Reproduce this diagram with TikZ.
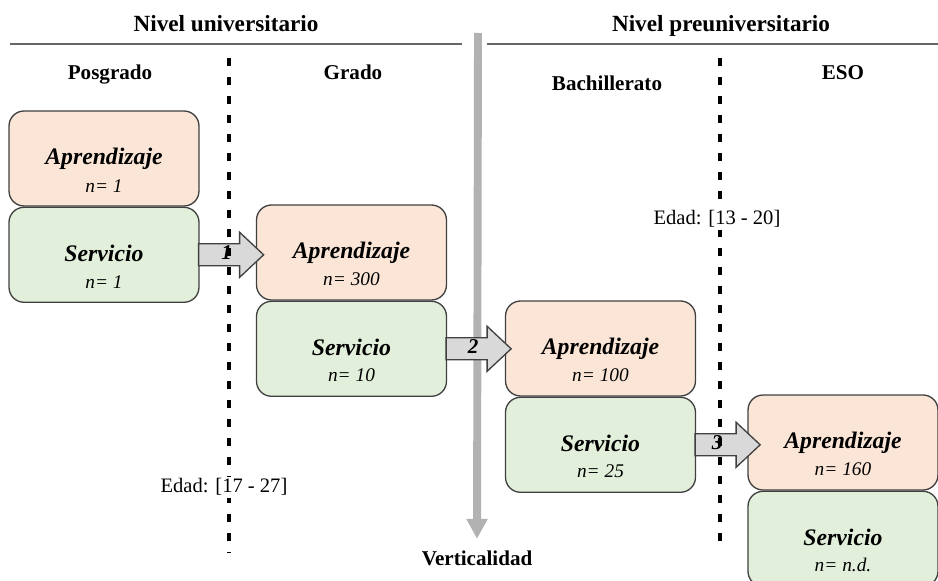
\documentclass[tikz,border=0pt]{standalone}
\usepackage{fontspec}
\setmainfont{Liberation Serif}
\usetikzlibrary{arrows.meta, positioning, calc}

\definecolor{aprfill}{RGB}{250,229,214}
\definecolor{servfill}{RGB}{226,239,218}
\definecolor{borde}{RGB}{64,64,64}
\definecolor{flechafill}{RGB}{217,217,217}
\definecolor{barragris}{RGB}{178,178,178}

\tikzset{
  caja/.style={draw=borde, line width=0.75pt, rounded corners=0.3cm, minimum width=3.8cm, minimum height=1.9cm, inner sep=0pt},
  apr/.style={caja, fill=aprfill},
  serv/.style={caja, fill=servfill},
  tit/.style={anchor=base, font=\fontsize{13.5}{15}\selectfont\bfseries\itshape},
  num/.style={anchor=base, font=\fontsize{11}{13}\selectfont\itshape},
  nivel/.style={anchor=base, font=\fontsize{13.2}{15}\selectfont\bfseries},
  etapa/.style={anchor=base, font=\fontsize{12}{14}\selectfont\bfseries},
  edad/.style={anchor=base, fill=white, inner sep=1pt, font=\fontsize{11.7}{14}\selectfont},
  flecha/.style={draw=borde, line width=0.75pt, fill=flechafill},
  corte/.style={line width=2.2pt, dash pattern=on 0.16cm off 0.22cm},
  linea/.style={draw=black!60, line width=0.6pt}
}

\begin{document}
\begin{tikzpicture}[x=0.02cm, y=-0.02cm]
\clip (0,0) rectangle (938,581);

% cabeceras
\node[nivel] (nivU) at (226,32) {Nivel universitario};
\node[nivel] (nivP) at (721,32) {Nivel preuniversitario};
\draw[linea] (10,44) -- (462,44);
\draw[linea] (487,44) -- (938,44);
\node[etapa] (posg) at (110,80) {Posgrado};
\node[etapa] (grad) at (353,80) {Grado};
\node[etapa] (bach) at (607,91) {Bachillerato};
\node[etapa] (eso) at (843,80) {ESO};

% verticalidad
\coordinate (vtop) at (478,33);
\node[etapa] (vert) at (477,565) {Verticalidad};
\draw[barragris, line width=4.5pt, -{Triangle[length=0.4cm, width=0.4cm]}, shorten >=3pt] (vtop) -- (vert.north);

% cajas
\node[apr] (ap1) at (104,158.5) {};
\node[serv, below=0pt of ap1] (sv1) {};
\node[apr] (ap2) at (351.5,252.5) {};
\node[serv, below=0pt of ap2] (sv2) {};
\node[apr] (ap3) at (600.5,348.5) {};
\node[serv, below=0pt of ap3] (sv3) {};
\node[apr] (ap4) at (843,442.5) {};
\node[serv, below=0pt of ap4] (sv4) {};

\node[tit] at ($(ap1.center)+(0,6.5)$) {Aprendizaje};
\node[num] at ($(ap1.center)+(0,34)$) {n= 1};
\node[tit] at ($(sv1.center)+(0,6.5)$) {Servicio};
\node[num] at ($(sv1.center)+(0,34)$) {n= 1};
\node[tit] at ($(ap2.center)+(0,6.5)$) {Aprendizaje};
\node[num] at ($(ap2.center)+(0,33)$) {n= 300};
\node[tit] at ($(sv2.center)+(0,6.5)$) {Servicio};
\node[num] at ($(sv2.center)+(0,33)$) {n= 10};
\node[tit] at ($(ap3.center)+(0,6.5)$) {Aprendizaje};
\node[num] at ($(ap3.center)+(0,33)$) {n= 100};
\node[tit] at ($(sv3.center)+(0,6.5)$) {Servicio};
\node[num] at ($(sv3.center)+(0,33)$) {n= 25};
\node[tit] at ($(ap4.center)+(0,6.5)$) {Aprendizaje};
\node[num] at ($(ap4.center)+(0,33)$) {n= 160};
\node[tit] at ($(sv4.center)+(0,6.5)$) {Servicio};
\node[num] at ($(sv4.center)+(0,33)$) {n= n.d.};

% flechas entre etapas
\draw[flecha] (sv1.east) ++(-1,-11) -- ++(41,0) -- ++(0,-11.5) -- ++(24,22.5) -- ++(-24,22.5) -- ++(0,-11.5) -- ++(-41,0) -- cycle;
\draw[flecha] (sv2.east) ++(-1,-11) -- ++(41,0) -- ++(0,-11.5) -- ++(24,22.5) -- ++(-24,22.5) -- ++(0,-11.5) -- ++(-41,0) -- cycle;
\draw[flecha] (sv3.east) ++(-1,-11) -- ++(41,0) -- ++(0,-11.5) -- ++(24,22.5) -- ++(-24,22.5) -- ++(0,-11.5) -- ++(-41,0) -- cycle;
\node[tit, font=\fontsize{12}{14}\selectfont\bfseries\itshape] (n1) at ($(sv1.east)+(27,5)$) {1};
\node[tit, font=\fontsize{12}{14}\selectfont\bfseries\itshape] (n2) at ($(sv2.east)+(26,5)$) {2};
\node[tit, font=\fontsize{12}{14}\selectfont\bfseries\itshape] (n3) at ($(sv3.east)+(21,5)$) {3};

% separaciones
\draw[corte] (229,58) -- (229,552);
\draw[corte] (720,58) -- (720,550);
\node[edad] (edadU) at (224,493) {Edad: [17 - 27]};
\node[edad] (edadP) at (717,225) {Edad: [13 - 20]};
\end{tikzpicture}
\end{document}
